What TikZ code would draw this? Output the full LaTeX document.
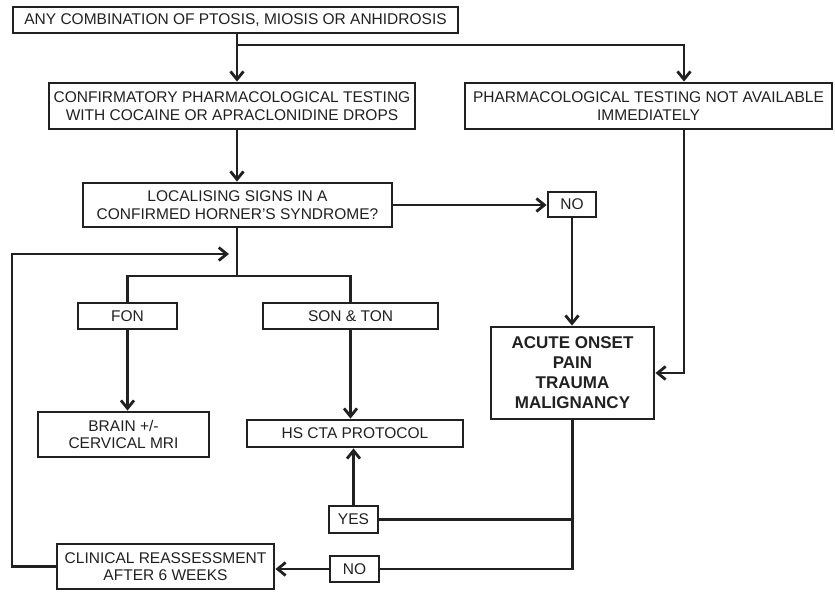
\documentclass[tikz,border=0pt]{standalone}
\usepackage{fontspec}
\setmainfont{Liberation Sans}
\usetikzlibrary{arrows.meta}

\definecolor{ink}{gray}{0.13}

\begin{document}
\begin{tikzpicture}[
    x=1pt, y=-1pt,
    box/.style={
        draw=ink,
        line width=2.8pt,
        align=center,
        inner sep=0pt,
        text=ink,
        font=\fontsize{15.5}{17.5}\selectfont
    },
    line/.style={draw=ink, line width=2.8pt},
    arrow/.style={line, -{Straight Barb[length=8pt, width=13pt, line width=2.8pt]}}
]
\useasboundingbox (0,0) rectangle (835,592);

\node[box, minimum width=445, minimum height=26] (any) at (235.5,20) {ANY COMBINATION OF PTOSIS, MIOSIS OR ANHIDROSIS};
\node[box, minimum width=366, minimum height=46] (conf) at (232,106) {CONFIRMATORY PHARMACOLOGICAL TESTING\\WITH COCAINE OR APRACLONIDINE DROPS};
\node[box, minimum width=367, minimum height=46] (notavail) at (648.5,106) {PHARMACOLOGICAL TESTING NOT AVAILABLE\\IMMEDIATELY};
\node[box, minimum width=309, minimum height=44] (signs) at (237.5,205) {LOCALISING SIGNS IN A\\CONFIRMED HORNER’S SYNDROME?};
\node[box, minimum width=48, minimum height=25] (no1) at (572,204.5) {NO};
\node[box, minimum width=163, minimum height=92, font=\fontsize{17}{20}\selectfont\bfseries] (acute) at (572.5,373) {ACUTE ONSET\\PAIN\\TRAUMA\\MALIGNANCY};
\node[box, minimum width=99, minimum height=26] (fon) at (127.5,316) {FON};
\node[box, minimum width=175, minimum height=26] (sonton) at (350.5,316) {SON \& TON};
\node[box, minimum width=171, minimum height=45] (mri) at (123.5,434.5) {BRAIN +/-\\CERVICAL MRI};
\node[box, minimum width=216, minimum height=27] (cta) at (355,433.5) {HS CTA PROTOCOL};
\node[box, minimum width=49, minimum height=27] (yes) at (353.5,519.5) {YES};
\node[box, minimum width=49, minimum height=26] (no2) at (354.5,569) {NO};
\node[box, minimum width=217, minimum height=45] (review) at (165.5,566.5) {CLINICAL REASSESSMENT\\AFTER 6 WEEKS};

\coordinate (trunk) at (237,45);
\coordinate (rline) at (684,45);
\coordinate (fork) at (237,276);
\coordinate (loop) at (12,254);
\coordinate (reentry) at (229,254);

\draw[arrow] (any.south -| trunk) -- (conf.north -| trunk);
\draw[arrow] (trunk) -- (rline) -- (notavail.north -| rline);
\draw[arrow] (conf.south -| trunk) -- (signs.north -| trunk);
\draw[arrow] (signs.east) -- (signs.east -| no1.west);
\draw[arrow] (no1.south) -- (no1.south |- acute.north);
\draw[arrow] (notavail.south -| rline) |- (acute.east);

\draw[line] (signs.south -| fork) -- (fork);
\draw[line] (fork) -| (fon.north);
\draw[line] (fork) -| (sonton.north);
\draw[arrow] (fon.south) -- (fon.south |- mri.north);
\draw[arrow] (sonton.south) -- (sonton.south |- cta.north);

\draw[line] (acute.south) |- (yes.east);
\draw[line] (acute.south) |- (no2.east);
\draw[arrow] (yes.north) -- (yes.north |- cta.south);
\draw[arrow] (no2.west) -- (no2.west -| review.east);
\draw[arrow] (review.west) -| (loop) -- (reentry);

\end{tikzpicture}
\end{document}
